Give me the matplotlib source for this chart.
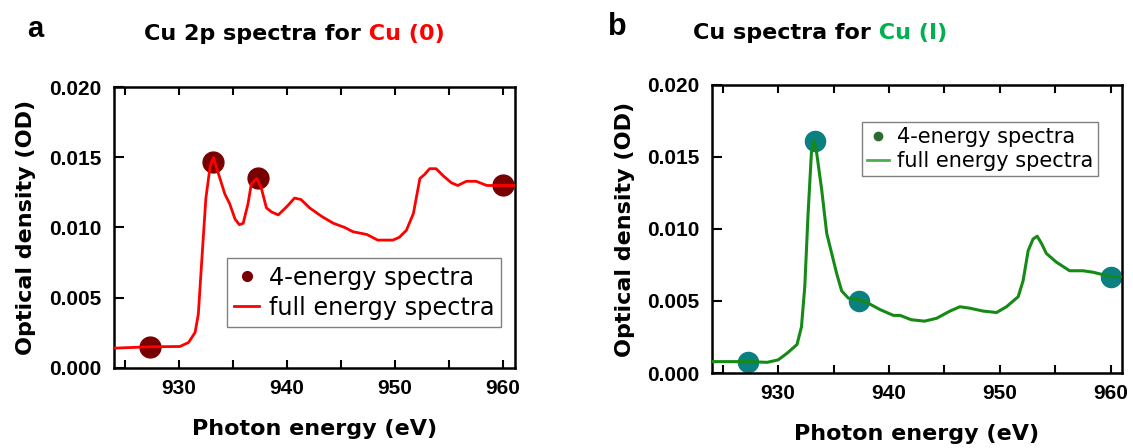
import matplotlib
matplotlib.use("Agg")
import matplotlib.pyplot as plt
from matplotlib.lines import Line2D
from matplotlib.ticker import MultipleLocator, FormatStrFormatter

# ---- panel a: Cu(0) ----
energy_a = [924.0, 927.3, 930.1, 930.9, 931.5, 931.8, 932.1, 932.5, 932.9, 933.2,
            933.6, 934.25, 934.7, 935.2, 935.6, 935.95, 936.4, 936.7, 937.2, 937.6,
            938.1, 938.6, 939.2, 940.0, 940.7, 941.3, 942.1, 943.2, 944.3, 945.35,
            946.1, 947.4, 948.4, 949.8, 950.4, 951.05, 951.7, 952.3, 952.75, 953.2,
            953.8, 954.45, 955.2, 955.8, 956.6, 957.5, 958.5, 960.0, 961.1]
od_a = [0.00138, 0.00148, 0.0015, 0.00179, 0.0025, 0.0038, 0.0074, 0.0121, 0.0144, 0.0150,
        0.0140, 0.0124, 0.0117, 0.0106, 0.0102, 0.0103, 0.0117, 0.0131, 0.0135, 0.0129,
        0.0114, 0.0111, 0.0109, 0.0115, 0.0121, 0.0120, 0.0114, 0.0108, 0.0103, 0.0100,
        0.0097, 0.0095, 0.0091, 0.0091, 0.0093, 0.0098, 0.0110, 0.0135, 0.0138, 0.0142,
        0.0142, 0.0137, 0.0132, 0.0130, 0.0133, 0.0133, 0.0130, 0.0130, 0.0130]
pts_e_a = [927.3, 933.2, 937.3, 960.0]
pts_od_a = [0.00143, 0.0147, 0.0135, 0.0130]

# ---- panel b: Cu(I) ----
energy_b = [924.0, 927.3, 929.0, 930.0, 930.8, 931.7, 932.1, 932.4, 932.7, 933.0,
            933.24, 933.47, 933.93, 934.38, 934.83, 935.28, 935.73, 936.33, 937.23, 938.0,
            939.2, 940.4, 941.0, 942.0, 943.2, 944.3, 945.5, 946.4, 947.3, 948.5,
            949.7, 950.6, 951.66, 952.1, 952.56, 953.0, 953.37, 953.76, 954.2, 955.1,
            956.3, 957.5, 958.4, 960.0, 961.0]
od_b = [0.00079, 0.00079, 0.00074, 0.00091, 0.00137, 0.00198, 0.0032, 0.0060, 0.0111, 0.0153,
        0.0161, 0.0153, 0.0127, 0.0097, 0.0083, 0.0069, 0.0057, 0.0052, 0.0051, 0.0049,
        0.0044, 0.0040, 0.0040, 0.0037, 0.0036, 0.0038, 0.0043, 0.0046, 0.0045, 0.0043,
        0.0042, 0.0046, 0.0053, 0.0064, 0.0085, 0.0093, 0.0095, 0.0090, 0.0083, 0.0077,
        0.0071, 0.0071, 0.0070, 0.0067, 0.0067]
pts_e_b = [927.3, 933.3, 937.3, 960.0]
pts_od_b = [0.00079, 0.0161, 0.0050, 0.0067]

legend_labels = ["4-energy spectra", "full energy spectra"]

W, H = 1133, 448
fig = plt.figure(figsize=(W / 100, H / 100), dpi=100)


def axes_px(l, r, t, b):
    return [l / W, 1 - b / H, (r - l) / W, (b - t) / H]


ax_a = fig.add_axes(axes_px(114, 515, 87.5, 367.5))
ax_b = fig.add_axes(axes_px(711.7, 1121.7, 85, 373))

lab_font = {"family": "DejaVu Sans", "weight": "bold", "size": 16}


def style(ax, xmax):
    ax.set_xlim(924, xmax)
    ax.set_ylim(0, 0.020)
    ax.xaxis.set_major_locator(MultipleLocator(10))
    ax.xaxis.set_minor_locator(MultipleLocator(5))
    ax.yaxis.set_major_locator(MultipleLocator(0.005))
    ax.yaxis.set_major_formatter(FormatStrFormatter("%.3f"))
    ax.tick_params(axis="x", which="both", direction="in", top=True, length=6, width=1.5, pad=8)
    ax.tick_params(axis="y", which="both", direction="in", right=False, length=7.5, width=1.5, pad=9)
    for lbl in ax.get_xticklabels() + ax.get_yticklabels():
        lbl.set_fontfamily("Liberation Sans")
        lbl.set_fontweight("bold")
        lbl.set_fontsize(15)
    for sp in ax.spines.values():
        sp.set_linewidth(1.8)
    ax.set_xlabel("Photon energy (eV)", fontdict=lab_font, va="top")
    ax.set_ylabel("Optical density (OD)", fontdict=lab_font)


def two_colour_title(x, y, black, coloured, colour):
    t = fig.text(x / W, 1 - y / H, black, family="DejaVu Sans", weight="bold",
                 size=16, va="baseline")
    fig.add_artist(matplotlib.text.Annotation(" " + coloured, xy=(1, 0), xycoords=t,
                                              va="bottom", family="DejaVu Sans",
                                              weight="bold", size=16, color=colour))


# panel a
ax_a.plot(pts_e_a, pts_od_a, "o", color="#780000", ms=15, zorder=2)
ax_a.plot(energy_a, od_a, color="#ff0000", lw=2, zorder=3)
style(ax_a, 961.1)
ax_a.xaxis.set_label_coords(0.5, -0.184)
ax_a.yaxis.set_label_coords(-0.195, 0.5)
h_a = [Line2D([], [], ls="", marker="o", color="#780000", ms=7),
       Line2D([], [], color="#ff0000", lw=2)]
ax_a.legend(h_a, legend_labels, loc="upper left", bbox_to_anchor=(0.281, 0.39),
            prop={"family": "DejaVu Sans", "size": 17.3}, frameon=True, fancybox=False,
            edgecolor="#808080", framealpha=1, borderpad=0.3, labelspacing=0.25,
            handlelength=1.05, handletextpad=0.4, borderaxespad=0)

# panel b
ax_b.plot(pts_e_b, pts_od_b, "o", color="#0b8080", ms=14.5, zorder=2)
ax_b.plot(energy_b, od_b, color="#168a16", lw=2.2, zorder=3)
style(ax_b, 961.0)
ax_b.xaxis.set_label_coords(0.5, -0.177)
ax_b.yaxis.set_label_coords(-0.188, 0.5)
h_b = [Line2D([], [], ls="", marker="o", color="#2e6b33", ms=6),
       Line2D([], [], color="#4cae4c", lw=2)]
ax_b.legend(h_b, legend_labels, loc="upper left", bbox_to_anchor=(0.367, 0.8726),
            prop={"family": "DejaVu Sans", "size": 15}, frameon=True, fancybox=False,
            edgecolor="#808080", framealpha=1, borderpad=0.25, labelspacing=0.2,
            handlelength=1.05, handletextpad=0.35, borderaxespad=0)

# panel letters and two-colour titles
fig.text(27 / W, 1 - 37 / H, "a", family="Liberation Sans", weight="bold", size=21, va="baseline")
fig.text(608 / W, 1 - 35 / H, "b", family="Liberation Sans", weight="bold", size=22, va="baseline")
two_colour_title(144, 40, "Cu 2p spectra for", "Cu (0)", "#ff0000")
two_colour_title(693, 39.3, "Cu spectra for", "Cu (I)", "#00b050")

fig.savefig("out.png", dpi=100)
